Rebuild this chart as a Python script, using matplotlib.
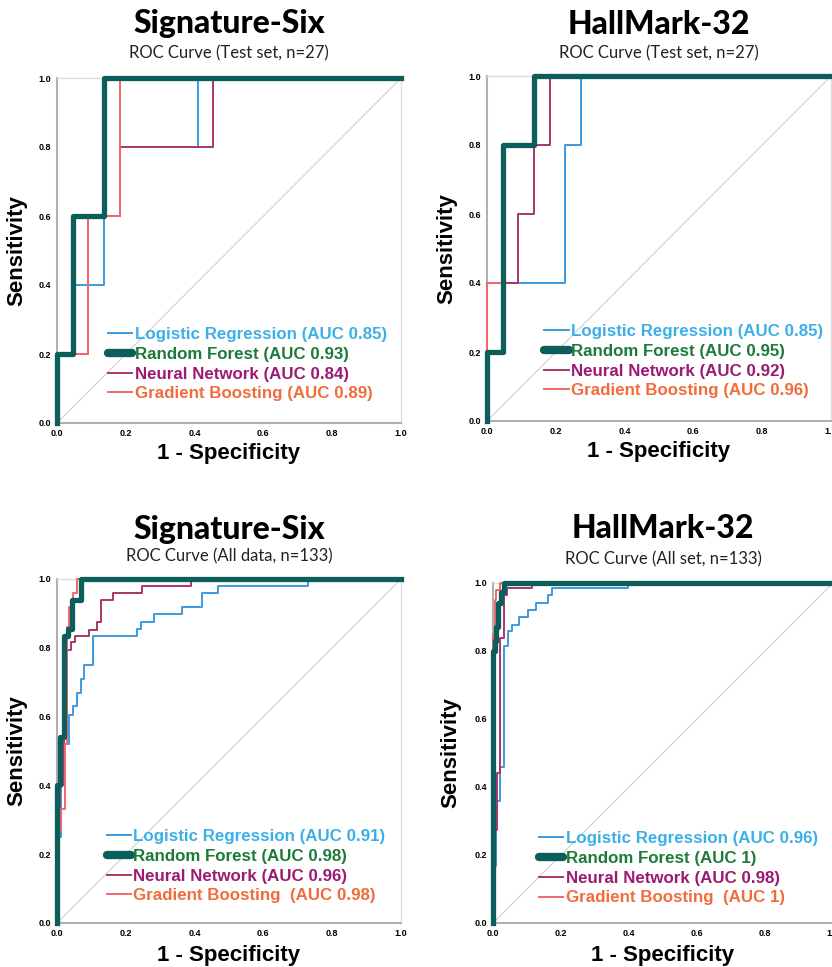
import matplotlib
matplotlib.use("Agg")
import matplotlib.pyplot as plt

# ROC step curves (x = 1 - specificity, y = sensitivity)
# panel 1: Signature-Six, test set
s6_test_lr_x = [0, 0, 1/22, 1/22, 3/22, 3/22, 4/22, 4/22, 9/22, 9/22, 1]
s6_test_lr_y = [0, 0.2, 0.2, 0.4, 0.4, 0.6, 0.6, 0.8, 0.8, 1.0, 1.0]
s6_test_rf_x = [0, 0, 1/22, 1/22, 3/22, 3/22, 1]
s6_test_rf_y = [0, 0.2, 0.2, 0.6, 0.6, 1.0, 1.0]
s6_test_nn_x = [0, 0, 2/22, 2/22, 4/22, 4/22, 10/22, 10/22, 1]
s6_test_nn_y = [0, 0.2, 0.2, 0.6, 0.6, 0.8, 0.8, 1.0, 1.0]
s6_test_gb_x = [0, 0, 2/22, 2/22, 4/22, 4/22, 1]
s6_test_gb_y = [0, 0.2, 0.2, 0.6, 0.6, 1.0, 1.0]

# panel 2: HallMark-32, test set
hm_test_lr_x = [0, 0, 1/22, 1/22, 5/22, 5/22, 6/22, 6/22, 1]
hm_test_lr_y = [0, 0.2, 0.2, 0.4, 0.4, 0.8, 0.8, 1.0, 1.0]
hm_test_rf_x = [0, 0, 1/22, 1/22, 3/22, 3/22, 1]
hm_test_rf_y = [0, 0.2, 0.2, 0.8, 0.8, 1.0, 1.0]
hm_test_nn_x = [0, 0, 2/22, 2/22, 3/22, 3/22, 4/22, 4/22, 1]
hm_test_nn_y = [0, 0.4, 0.4, 0.6, 0.6, 0.8, 0.8, 1.0, 1.0]
hm_test_gb_x = [0, 0, 1/22, 1/22, 3/22, 3/22, 1]
hm_test_gb_y = [0, 0.4, 0.4, 0.8, 0.8, 1.0, 1.0]

# panel 3: Signature-Six, all data
s6_all_lr_x = [0, 0, 0.012, 0.012, 0.035, 0.035, 0.046, 0.046, 0.057, 0.057, 0.069, 0.069,
               0.079, 0.079, 0.104, 0.104, 0.233, 0.233, 0.245, 0.245, 0.282, 0.282,
               0.362, 0.362, 0.422, 0.422, 0.468, 0.468, 0.730, 0.730, 1]
s6_all_lr_y = [0, 0.25, 0.25, 0.52, 0.52, 0.605, 0.605, 0.63, 0.63, 0.67, 0.67, 0.71,
               0.71, 0.75, 0.75, 0.834, 0.834, 0.855, 0.855, 0.876, 0.876, 0.897,
               0.897, 0.918, 0.918, 0.959, 0.959, 0.979, 0.979, 1.0, 1.0]
s6_all_rf_x = [0, 0, 0.009, 0.009, 0.02, 0.02, 0.033, 0.033, 0.045, 0.045, 0.07, 0.07, 1]
s6_all_rf_y = [0, 0.40, 0.40, 0.54, 0.54, 0.835, 0.835, 0.855, 0.855, 0.94, 0.94, 1.0, 1.0]
s6_all_nn_x = [0, 0, 0.008, 0.008, 0.02, 0.02, 0.03, 0.03, 0.04, 0.04, 0.052, 0.052,
               0.094, 0.094, 0.115, 0.115, 0.127, 0.127, 0.163, 0.163, 0.246, 0.246,
               0.389, 0.389, 1]
s6_all_nn_y = [0, 0.27, 0.27, 0.40, 0.40, 0.55, 0.55, 0.794, 0.794, 0.818, 0.818, 0.834,
               0.834, 0.853, 0.853, 0.876, 0.876, 0.939, 0.939, 0.96, 0.96, 0.98,
               0.98, 1.0, 1.0]
s6_all_gb_x = [0, 0, 0.012, 0.012, 0.023, 0.023, 0.028, 0.028, 0.035, 0.035, 0.046, 0.046,
               0.057, 0.057, 1]
s6_all_gb_y = [0, 0.27, 0.27, 0.33, 0.33, 0.52, 0.52, 0.86, 0.86, 0.92, 0.92, 0.96,
               0.96, 1.0, 1.0]

# panel 4: HallMark-32, all data
hm_all_lr_x = [0, 0, 0.01, 0.01, 0.02, 0.02, 0.031, 0.031, 0.043, 0.043, 0.056, 0.056,
               0.077, 0.077, 0.102, 0.102, 0.126, 0.126, 0.161, 0.161, 0.173, 0.173,
               0.397, 0.397, 1]
hm_all_lr_y = [0, 0.167, 0.167, 0.358, 0.358, 0.46, 0.46, 0.814, 0.814, 0.858, 0.858, 0.877,
               0.877, 0.899, 0.899, 0.921, 0.921, 0.941, 0.941, 0.964, 0.964, 0.985,
               0.985, 1.0, 1.0]
hm_all_rf_x = [0, 0, 0.005, 0.005, 0.01, 0.01, 0.016, 0.016, 0.025, 0.025, 0.031, 0.031, 1]
hm_all_rf_y = [0, 0.80, 0.80, 0.83, 0.83, 0.87, 0.87, 0.94, 0.94, 0.975, 0.975, 1.0, 1.0]
hm_all_nn_x = [0, 0, 0.012, 0.012, 0.022, 0.022, 0.031, 0.031, 0.041, 0.041, 0.115, 0.115, 1]
hm_all_nn_y = [0, 0.274, 0.274, 0.441, 0.441, 0.838, 0.838, 0.966, 0.966, 0.986, 0.986, 1.0, 1.0]
hm_all_gb_x = [0, 0, 0.005, 0.005, 0.01, 0.01, 0.02, 0.02, 1]
hm_all_gb_y = [0, 0.85, 0.85, 0.95, 0.95, 0.98, 0.98, 1.0, 1.0]

titles = ["Signature-Six", "HallMark-32", "Signature-Six", "HallMark-32"]
subtitles = ["ROC Curve (Test set, n=27)", "ROC Curve (Test set, n=27)",
             "ROC Curve (All data, n=133)", "ROC Curve (All set, n=133)"]
auc_lr = ["0.85", "0.85", "0.91", "0.96"]
auc_rf = ["0.93", "0.95", "0.98", "1"]
auc_nn = ["0.84", "0.92", "0.96", "0.98"]
auc_gb = ["0.89", "0.96", "0.98", "1"]
gb_gap = ["", "", " ", " "]
ticks = [0.0, 0.2, 0.4, 0.6, 0.8, 1.0]

curves = [
    (s6_test_lr_x, s6_test_lr_y, s6_test_rf_x, s6_test_rf_y, s6_test_nn_x, s6_test_nn_y, s6_test_gb_x, s6_test_gb_y),
    (hm_test_lr_x, hm_test_lr_y, hm_test_rf_x, hm_test_rf_y, hm_test_nn_x, hm_test_nn_y, hm_test_gb_x, hm_test_gb_y),
    (s6_all_lr_x, s6_all_lr_y, s6_all_rf_x, s6_all_rf_y, s6_all_nn_x, s6_all_nn_y, s6_all_gb_x, s6_all_gb_y),
    (hm_all_lr_x, hm_all_lr_y, hm_all_rf_x, hm_all_rf_y, hm_all_nn_x, hm_all_nn_y, hm_all_gb_x, hm_all_gb_y),
]

# colours
c_lr, c_rf, c_nn, c_gb = "#3d9be0", "#0b5e59", "#a8386a", "#f4676b"
t_lr, t_rf, t_nn, t_gb = "#3cb0e6", "#1d7a3a", "#9c1a72", "#f26b3a"

W, H = 832, 967
# axes boxes in pixels: left, top, right, bottom
boxes = [(57, 78, 401, 423), (487, 76, 831, 421), (57, 579, 401, 923), (493, 583, 833, 923)]
title_y = [24, 24, 529, 529]
sub_y = [53, 53, 556, 559]
xlab_y = [454, 452, 955, 956]
ylab_x = [17, 447, 17, 451]
leg_anchor = [(0.148, 0.278), (0.166, 0.281), (0.145, 0.273), (0.135, 0.270)]

fig = plt.figure(figsize=(W / 100, H / 100), dpi=100)

for i in range(4):
    l, t, r, b = boxes[i]
    ax = fig.add_axes([l / W, 1 - b / H, (r - l) / W, (b - t) / H])
    lrx, lry, rfx, rfy, nnx, nny, gbx, gby = curves[i]

    ax.plot([0, 1], [0, 1], color="#d0d0d0", lw=0.8, zorder=1)
    ax.plot(lrx, lry, color=c_lr, lw=1.4, zorder=2, clip_on=False,
            label="Logistic Regression (AUC %s)" % auc_lr[i])
    ax.plot(rfx, rfy, color=c_rf, lw=3.8, zorder=5, clip_on=False,
            label="Random Forest (AUC %s)" % auc_rf[i])
    ax.plot(nnx, nny, color=c_nn, lw=1.4, zorder=3, clip_on=False,
            label="Neural Network (AUC %s)" % auc_nn[i])
    ax.plot(gbx, gby, color=c_gb, lw=1.4, zorder=4, clip_on=False,
            label="Gradient Boosting %s(AUC %s)" % (gb_gap[i], auc_gb[i]))

    ax.set_xlim(0, 1)
    ax.set_ylim(0, 1)
    ax.set_xticks(ticks)
    ax.set_yticks(ticks)
    ax.set_xticklabels(["%.1f" % v for v in ticks], fontsize=6.5, fontweight="bold",
                       family="Liberation Sans")
    ax.set_yticklabels(["%.1f" % v for v in ticks], fontsize=6.5, fontweight="bold",
                       family="Liberation Sans")
    ax.tick_params(length=0, pad=4)
    for side in ["left", "bottom"]:
        ax.spines[side].set_color("#b0b0b0")
        ax.spines[side].set_linewidth(1.5)
    for side in ["top", "right"]:
        ax.spines[side].set_color("#dddddd")
        ax.spines[side].set_linewidth(1.0)

    leg = ax.legend(loc="upper left", bbox_to_anchor=leg_anchor[i], frameon=False,
                    borderpad=0, borderaxespad=0, handlelength=1.45, handletextpad=0.12,
                    labelspacing=0.28, labelcolor=[t_lr, t_rf, t_nn, t_gb],
                    prop={"family": "Liberation Sans", "weight": "bold", "size": 12.2})
    leg.get_lines()[1].set_linewidth(6)
    leg.get_lines()[1].set_solid_capstyle("round")

    cx = (l + r) / 2 / W
    fig.text(cx, 1 - title_y[i] / H, titles[i], ha="center", va="center",
             fontsize=23, fontweight="black", family="Lato")
    fig.text(cx, 1 - sub_y[i] / H, subtitles[i], ha="center", va="center",
             fontsize=12, family="Lato", color="#222222")
    fig.text(cx, 1 - xlab_y[i] / H, "1 - Specificity", ha="center", va="center",
             fontsize=16, fontweight="bold", family="Liberation Sans")
    fig.text(ylab_x[i] / W, 1 - ((t + b) / 2) / H, "Sensitivity", ha="center", va="center",
             rotation=90, fontsize=16, fontweight="bold", family="Liberation Sans")

fig.savefig("out.png", dpi=100)
